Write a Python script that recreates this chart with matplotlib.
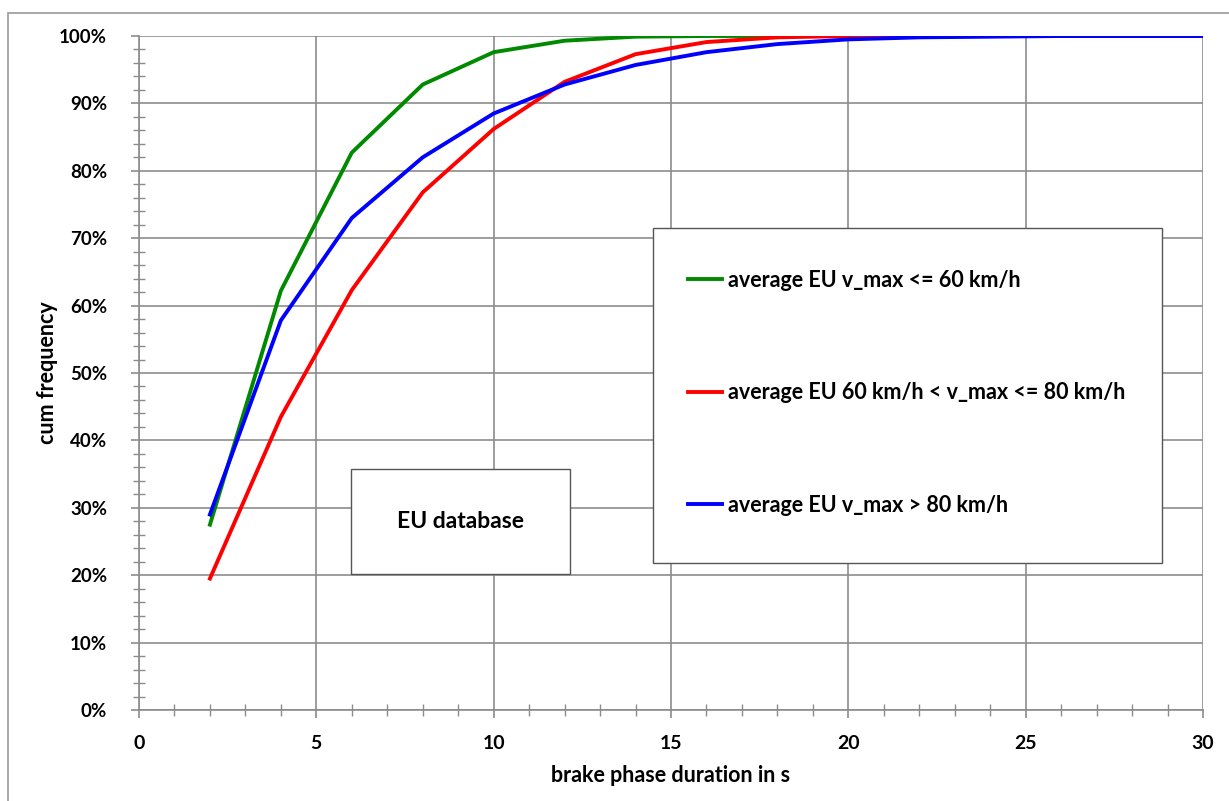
import numpy as np
import matplotlib
matplotlib.use("Agg")
import matplotlib.pyplot as plt
from matplotlib.patches import Rectangle
from matplotlib.ticker import MultipleLocator, FuncFormatter

plt.rcParams["font.family"] = ["Lato", "DejaVu Sans"]
plt.rcParams["font.weight"] = "bold"

# brake phase duration in s
duration = [2, 4, 6, 8, 10, 12, 14, 16, 18, 20, 22, 24, 26, 28, 30]

# cumulative frequency in %
freq_le60 = [27.5, 62.2, 82.7, 92.8, 97.6, 99.3, 99.9, 100, 100, 100, 100, 100, 100, 100, 100]
freq_60_80 = [19.5, 43.5, 62.3, 76.8, 86.2, 93.2, 97.3, 99.1, 99.8, 100, 100, 100, 100, 100, 100]
freq_gt80 = [29.0, 57.8, 73.0, 82.0, 88.5, 92.8, 95.7, 97.6, 98.8, 99.5, 99.8, 99.9, 100, 100, 100]

labels = ["average EU v_max <= 60 km/h",
          "average EU 60 km/h < v_max <= 80 km/h",
          "average EU v_max > 80 km/h"]
colors = ["#008a00", "#ff0000", "#0000ff"]

W, H = 1229, 801
fig = plt.figure(figsize=(W / 100, H / 100), dpi=100)
ax = fig.add_axes([139 / W, 1 - 710 / H, 1064 / W, 674 / H])

# outer frame of the chart (cropped at right and bottom)
fig.patches.append(Rectangle((8 / W, -0.1), 1.2, 1 - 13 / H + 0.1,
                             transform=fig.transFigure, fill=False,
                             edgecolor="#9a9a9a", linewidth=1.2))

grid_col = "#8c8c8c"
for y, lab, c in zip([freq_le60, freq_60_80, freq_gt80], labels, colors):
    ax.plot(duration, y, color=c, linewidth=2.8, label=lab, zorder=3)

ax.set_xlim(0, 30)
ax.set_ylim(0, 100)
ax.xaxis.set_major_locator(MultipleLocator(5))
ax.xaxis.set_minor_locator(MultipleLocator(1))
ax.yaxis.set_major_locator(MultipleLocator(10))
ax.yaxis.set_minor_locator(MultipleLocator(2))
ax.yaxis.set_major_formatter(FuncFormatter(lambda v, p: "%d%%" % v))

ax.grid(True, which="major", color=grid_col, linewidth=1.2, zorder=1)
for s in ["top", "right"]:
    ax.spines[s].set_visible(False)
for s in ["left", "bottom"]:
    ax.spines[s].set_color(grid_col)
    ax.spines[s].set_linewidth(1.2)

ax.tick_params(axis="x", which="major", direction="out", length=6, width=1.2,
               color=grid_col, pad=12, labelsize=14)
ax.tick_params(axis="x", which="minor", direction="inout", length=8, width=1.0,
               color=grid_col)
ax.tick_params(axis="y", which="major", direction="out", length=6, width=1.2,
               color=grid_col, pad=17, labelsize=13.5)
ax.tick_params(axis="y", which="minor", direction="inout", length=9, width=1.0,
               color=grid_col)
for t in ax.get_xticklabels() + ax.get_yticklabels():
    t.set_fontweight("bold")

ax.set_xlabel("brake phase duration in s", fontsize=15.5, fontweight="bold", va="center")
ax.set_ylabel("cum frequency", fontsize=15.5, fontweight="bold", va="center")
ax.xaxis.set_label_coords(0.5, (710 - 775) / 674)
ax.yaxis.set_label_coords((48 - 139) / 1064, 0.5)

# legend box drawn separately, entries placed inside it
ax.add_patch(Rectangle(((653 - 139) / 1064, (710 - 563) / 674), 509 / 1064, 335 / 674,
                       transform=ax.transAxes, facecolor="white", edgecolor="#555555",
                       linewidth=1.0, zorder=4))
leg = ax.legend(loc="upper left", bbox_to_anchor=((688 - 139) / 1064, (710 - 270) / 674),
                borderaxespad=0, borderpad=0, fontsize=15.5, frameon=False,
                labelspacing=4.25, handlelength=1.6, handletextpad=0.25)
leg.set_zorder(5)
for t in leg.get_texts():
    t.set_fontweight("bold")

# "EU database" box
ax.add_patch(Rectangle((0.199, 0.202), 0.206, 0.156, transform=ax.transAxes,
                       facecolor="white", edgecolor="#555555", linewidth=1.0, zorder=4))
ax.text(0.302, 0.280, "EU database", transform=ax.transAxes, ha="center", va="center",
        fontsize=16.5, fontweight="bold", zorder=5)

fig.savefig("out.png", dpi=100)
